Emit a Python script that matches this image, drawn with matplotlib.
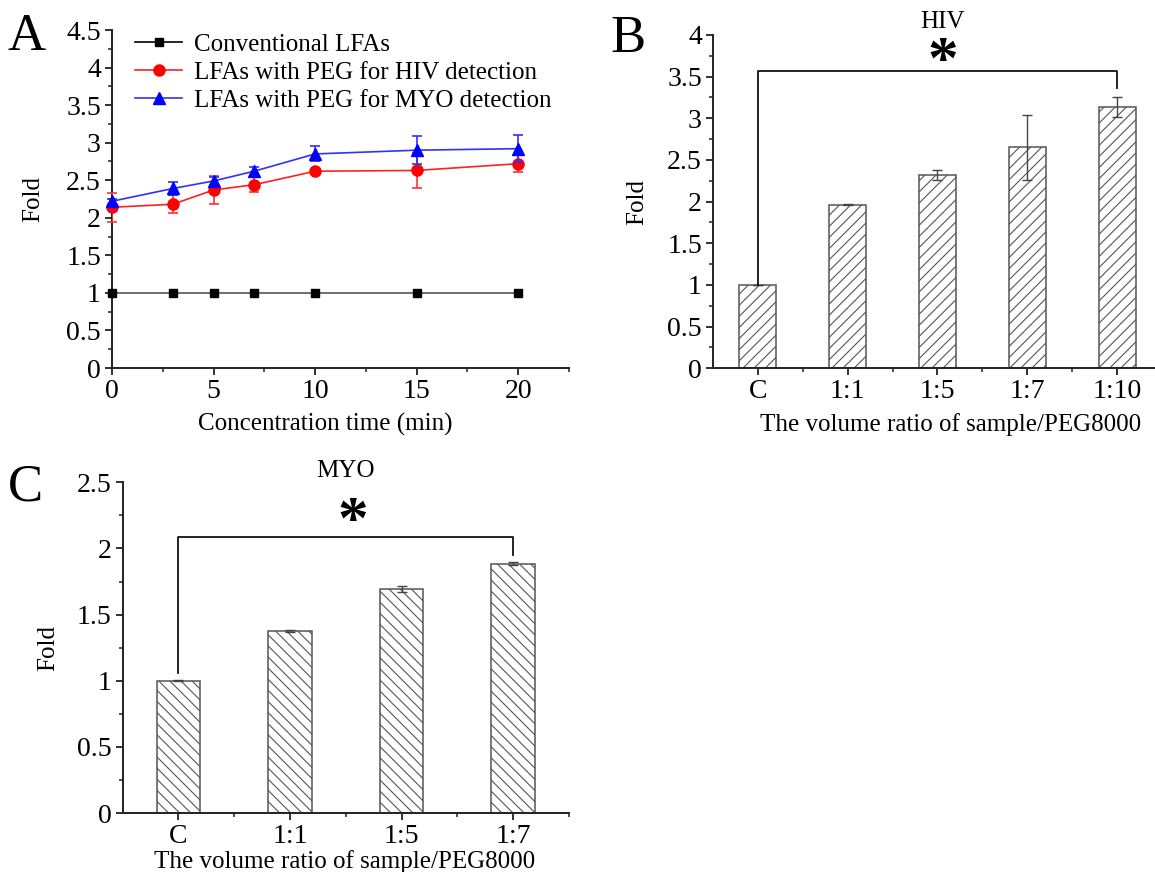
import matplotlib
matplotlib.use("Agg")
import matplotlib.pyplot as plt
from matplotlib.ticker import MultipleLocator, FixedLocator, FuncFormatter
from matplotlib.lines import Line2D

plt.rcParams['font.family'] = ['Liberation Serif', 'DejaVu Serif']
plt.rcParams['hatch.linewidth'] = 0.8

# ---------------- data ----------------
time_min = [0, 3, 5, 7, 10, 15, 20]
conv_fold = [1, 1, 1, 1, 1, 1, 1]
hiv_fold = [2.14, 2.18, 2.37, 2.44, 2.62, 2.63, 2.72]
hiv_err = [0.19, 0.12, 0.19, 0.10, 0.02, 0.23, 0.11]
myo_fold = [2.22, 2.39, 2.49, 2.62, 2.85, 2.90, 2.92]
myo_err = [0.03, 0.09, 0.05, 0.05, 0.10, 0.19, 0.18]
legend_labels = ['Conventional LFAs', 'LFAs with PEG for HIV detection',
                 'LFAs with PEG for MYO detection']

hiv_ratio = ['C', '1:1', '1:5', '1:7', '1:10']
hiv_bar = [1.0, 1.965, 2.32, 2.65, 3.13]
hiv_bar_err = [0.005, 0.01, 0.06, 0.39, 0.12]

myo_ratio = ['C', '1:1', '1:5', '1:7']
myo_bar = [1.0, 1.377, 1.692, 1.885]
myo_bar_err = [0.003, 0.01, 0.025, 0.01]

W, H = 1155, 872
fig = plt.figure(figsize=(W / 100, H / 100), dpi=100)

TICKFS = 20
LABFS = 18
LETTERFS = 38
fmt = FuncFormatter(lambda v, p: '%g' % round(v, 3))

def frac(left, top, right, bottom):
    return [left / W, 1 - bottom / H, (right - left) / W, (bottom - top) / H]

def style_axes(ax):
    for s in ['top', 'right']:
        ax.spines[s].set_visible(False)
    for s in ['left', 'bottom']:
        ax.spines[s].set_linewidth(1.4)
        ax.spines[s].set_color('#222222')
    ax.tick_params(which='major', direction='out', length=5, width=1.3,
                   labelsize=TICKFS, colors='#222222', labelcolor='black', pad=3)
    ax.tick_params(which='minor', direction='out', length=3, width=1.1,
                   colors='#222222')
    ax.set_facecolor('none')
    ax.yaxis.set_major_formatter(fmt)

# ---------------- Panel A ----------------
axA = fig.add_axes(frac(112, 30, 569, 368))
style_axes(axA)
axA.plot(time_min, conv_fold, color='#555555', lw=1.2, marker='s', ms=6,
         mfc='black', mec='black', zorder=3, clip_on=False)
axA.errorbar(time_min, hiv_fold, yerr=hiv_err, color='#ff2020', lw=1.2,
             marker='o', ms=8, mfc='red', mec='red', ecolor='#ff3030',
             elinewidth=1.2, capsize=3.5, capthick=1.2, zorder=4)
axA.errorbar(time_min, myo_fold, yerr=myo_err, color='#3030ff', lw=1.2,
             marker='^', ms=9, mfc='blue', mec='blue', ecolor='#3030ff',
             elinewidth=1.2, capsize=3.5, capthick=1.2, zorder=5)
axA.set_xlim(0, 22.5)
axA.set_ylim(0, 4.5)
axA.xaxis.set_major_locator(FixedLocator([0, 5, 10, 15, 20]))
axA.xaxis.set_minor_locator(FixedLocator([2.5, 7.5, 12.5, 17.5, 22.5]))
axA.yaxis.set_major_locator(MultipleLocator(0.5))
axA.yaxis.set_minor_locator(MultipleLocator(0.25))
axA.set_xlabel('Concentration time (min)', fontsize=LABFS, labelpad=6, x=0.466)
axA.set_ylabel('Fold', fontsize=LABFS, labelpad=16)
for ln in axA.lines:
    ln.set_clip_on(False)
handles = [
    Line2D([], [], color='black', lw=1.2, marker='s', ms=6, mfc='black', mec='black'),
    Line2D([], [], color='#ff2020', lw=1.2, marker='o', ms=8, mfc='red', mec='red'),
    Line2D([], [], color='#3030ff', lw=1.2, marker='^', ms=9, mfc='blue', mec='blue'),
]
axA.legend(handles, legend_labels, loc='upper left', bbox_to_anchor=(0.028, 1.02),
           frameon=False, fontsize=LABFS, handlelength=1.9, handletextpad=0.45,
           labelspacing=0.22, borderaxespad=0)
fig.text(8 / W, 1 - 50 / H, 'A', fontsize=LETTERFS, ha='left', va='baseline')

# ---------------- Panel B ----------------
axB = fig.add_axes(frac(713, 35, 1162, 368.3))
style_axes(axB)
xB = list(range(len(hiv_ratio)))
axB.bar(xB, hiv_bar, width=0.41, color='white', edgecolor='#555555',
        linewidth=1.1, hatch='///', zorder=2)
axB.errorbar(xB, hiv_bar, yerr=hiv_bar_err, fmt='none', ecolor='#444444',
             elinewidth=1.0, capsize=3.5, capthick=1.0, zorder=3)
axB.set_xlim(-0.5, 4.5)
axB.set_ylim(0, 4)
axB.set_xticks(xB)
axB.set_xticklabels(hiv_ratio)
axB.xaxis.set_minor_locator(FixedLocator([0.5, 1.5, 2.5, 3.5]))
axB.yaxis.set_major_locator(MultipleLocator(0.5))
axB.yaxis.set_minor_locator(MultipleLocator(0.25))
axB.set_xlabel('The volume ratio of sample/PEG8000', fontsize=LABFS, labelpad=6,
               x=0.528)
axB.set_ylabel('Fold', fontsize=LABFS, labelpad=13.5)
axB.set_title('HIV', fontsize=LABFS, pad=5, x=0.51)
axB.plot([0, 0, 4, 4], [1.0, 3.57, 3.57, 3.36], color='#111111', lw=1.3,
         clip_on=False, zorder=4)
axB.text(2.06, 3.66, '*', fontsize=44, fontweight='bold', ha='center',
         va='center')
fig.text(610 / W, 1 - 52 / H, 'B', fontsize=LETTERFS, ha='left', va='baseline')

# ---------------- Panel C ----------------
axC = fig.add_axes(frac(122.7, 482.3, 569, 813))
style_axes(axC)
xC = list(range(len(myo_ratio)))
axC.bar(xC, myo_bar, width=0.39, color='white', edgecolor='#555555',
        linewidth=1.1, hatch='\\\\\\', zorder=2)
axC.errorbar(xC, myo_bar, yerr=myo_bar_err, fmt='none', ecolor='#444444',
             elinewidth=1.0, capsize=3.5, capthick=1.0, zorder=3)
axC.set_xlim(-0.5, 3.5)
axC.set_ylim(0, 2.5)
axC.set_xticks(xC)
axC.set_xticklabels(myo_ratio)
axC.xaxis.set_minor_locator(FixedLocator([0.5, 1.5, 2.5, 3.5]))
axC.yaxis.set_major_locator(MultipleLocator(0.5))
axC.yaxis.set_minor_locator(MultipleLocator(0.25))
axC.set_xlabel('The volume ratio of sample/PEG8000', fontsize=LABFS, labelpad=0.5,
               x=0.498)
axC.set_ylabel('Fold', fontsize=LABFS, labelpad=13)
axC.set_title('MYO', fontsize=LABFS, pad=-3, x=0.5)
axC.plot([0, 0, 3, 3], [1.06, 2.09, 2.09, 1.95], color='#111111', lw=1.3,
         clip_on=False, zorder=4)
axC.text(1.56, 2.19, '*', fontsize=44, fontweight='bold', ha='center',
         va='center')
fig.text(8 / W, 1 - 500 / H, 'C', fontsize=LETTERFS, ha='left', va='baseline')

fig.savefig('out.png', dpi=100)
